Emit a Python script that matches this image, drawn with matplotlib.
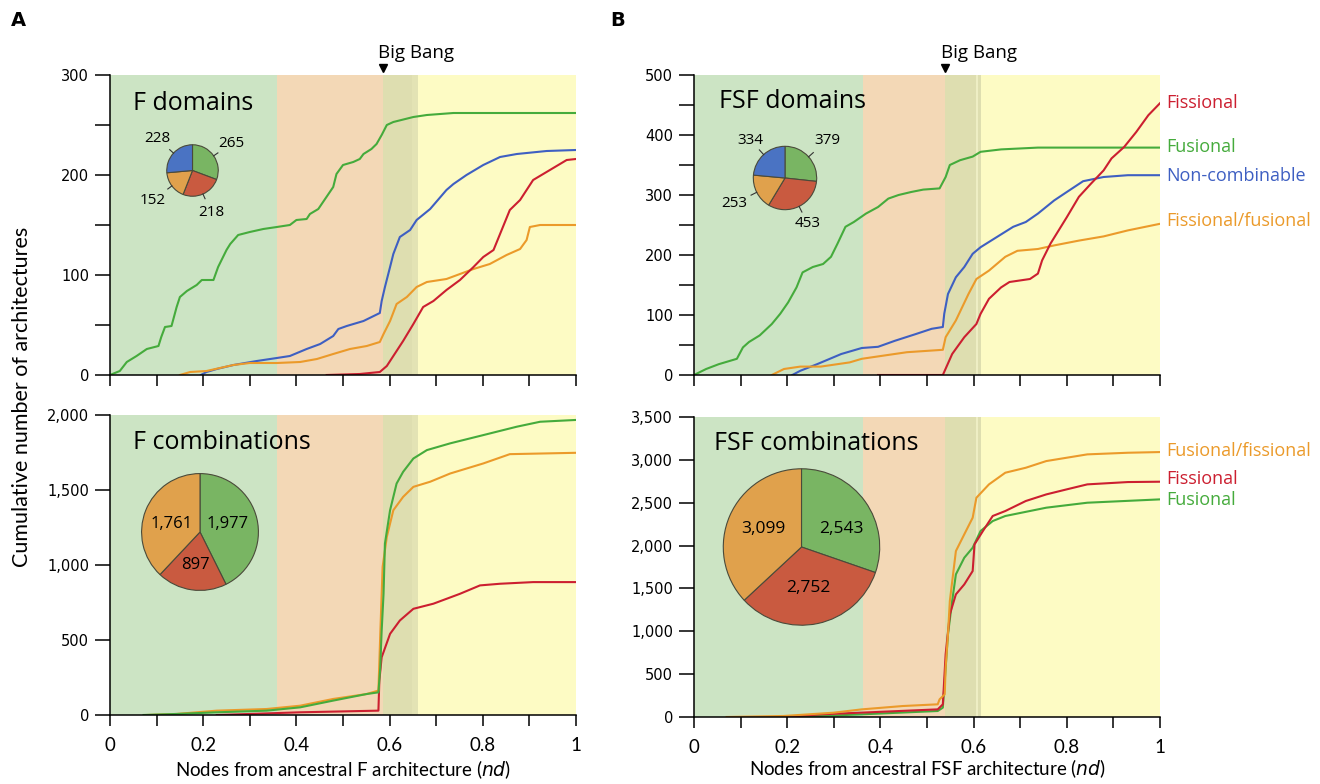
import matplotlib
matplotlib.use('Agg')
import matplotlib.pyplot as plt
import numpy as np
from matplotlib.ticker import MultipleLocator, FuncFormatter
import matplotlib.transforms as mtrans
import warnings
warnings.filterwarnings('ignore')

plt.rcParams['font.family'] = ['Open Sans', 'DejaVu Sans']

# ---------------- data ----------------
# Panel A top: F domains
fd_fus_x = [0, 0.021, 0.036, 0.057, 0.079, 0.104, 0.11, 0.118, 0.132, 0.143, 0.15, 0.165, 0.186, 0.197, 0.222, 0.232, 0.25, 0.258, 0.275, 0.3, 0.329, 0.358, 0.386, 0.4, 0.422, 0.429, 0.447, 0.479, 0.486, 0.5, 0.522, 0.536, 0.544, 0.561, 0.572, 0.583, 0.594, 0.608, 0.651, 0.68, 0.737, 1.0]
fd_fus_y = [0, 4, 13, 19, 26, 29, 38, 48, 49, 68, 78, 84, 90, 95, 95, 108, 125, 131, 140, 143, 146, 148, 150, 155, 156, 161, 166, 188, 201, 210, 213, 216, 221, 226, 231, 240, 250, 253, 258, 260, 262, 262]
fd_non_x = [0.195, 0.207, 0.229, 0.265, 0.315, 0.358, 0.386, 0.422, 0.451, 0.479, 0.49, 0.508, 0.544, 0.579, 0.583, 0.59, 0.601, 0.608, 0.622, 0.644, 0.658, 0.687, 0.722, 0.737, 0.765, 0.801, 0.837, 0.873, 0.937, 1.0]
fd_non_y = [0, 3, 6, 10, 14, 17, 19, 26, 31, 39, 46, 49, 54, 62, 74, 88, 108, 121, 138, 145, 155, 166, 185, 191, 200, 210, 218, 221, 224, 225]
fd_ff_x = [0.15, 0.172, 0.207, 0.265, 0.3, 0.358, 0.408, 0.444, 0.479, 0.515, 0.551, 0.579, 0.587, 0.601, 0.615, 0.637, 0.658, 0.68, 0.722, 0.751, 0.78, 0.815, 0.851, 0.88, 0.894, 0.901, 0.923, 1.0]
fd_ff_y = [0, 3, 4, 10, 12, 12, 13, 16, 21, 26, 29, 33, 41, 54, 71, 78, 88, 93, 96, 101, 106, 111, 120, 126, 135, 148, 150, 150]
fd_fis_x = [0.465, 0.536, 0.579, 0.594, 0.608, 0.629, 0.651, 0.672, 0.694, 0.722, 0.751, 0.78, 0.801, 0.823, 0.837, 0.858, 0.88, 0.908, 0.944, 0.98, 1.0]
fd_fis_y = [0, 1, 3, 9, 19, 34, 51, 68, 74, 85, 95, 108, 118, 125, 141, 165, 175, 195, 205, 215, 216]
fd_pie = [265, 218, 152, 228]  # fusional, fissional, fissional/fusional, non-combinable

# Panel B top: FSF domains
fsd_fus_x = [0, 0.026, 0.053, 0.092, 0.105, 0.118, 0.141, 0.167, 0.185, 0.202, 0.22, 0.233, 0.255, 0.277, 0.294, 0.308, 0.325, 0.343, 0.369, 0.395, 0.417, 0.439, 0.466, 0.492, 0.527, 0.54, 0.549, 0.571, 0.598, 0.615, 0.659, 0.738, 1.0]
fsd_fus_y = [0, 10, 18, 27, 46, 55, 66, 85, 102, 121, 146, 171, 180, 185, 197, 219, 247, 255, 269, 280, 294, 300, 305, 309, 311, 330, 350, 358, 364, 372, 376, 379, 379]
fsd_non_x = [0.211, 0.228, 0.264, 0.316, 0.36, 0.395, 0.431, 0.475, 0.51, 0.534, 0.537, 0.545, 0.562, 0.58, 0.598, 0.615, 0.65, 0.685, 0.712, 0.738, 0.773, 0.8, 0.835, 0.879, 0.931, 1.0]
fsd_non_y = [0, 7, 18, 35, 45, 47, 57, 68, 77, 80, 102, 135, 163, 180, 202, 213, 230, 247, 255, 269, 291, 305, 323, 330, 333, 333]
fsd_ff_x = [0.167, 0.193, 0.228, 0.272, 0.334, 0.36, 0.404, 0.457, 0.534, 0.54, 0.562, 0.589, 0.606, 0.633, 0.668, 0.694, 0.738, 0.773, 0.826, 0.879, 0.931, 1.0]
fsd_ff_y = [0, 10, 14, 14, 21, 27, 32, 38, 42, 63, 91, 135, 160, 174, 197, 207, 210, 216, 224, 231, 241, 252]
fsd_fis_x = [0.395, 0.534, 0.554, 0.58, 0.606, 0.615, 0.633, 0.659, 0.677, 0.721, 0.738, 0.747, 0.765, 0.8, 0.826, 0.852, 0.879, 0.896, 0.923, 0.949, 0.975, 1.0]
fsd_fis_y = [0, 0, 35, 63, 85, 102, 127, 146, 155, 160, 169, 191, 219, 263, 297, 319, 341, 361, 380, 405, 433, 453]
fsd_pie = [379, 453, 253, 334]

# Panel A bottom: F combinations
fc_fus_x = [0.072, 0.143, 0.229, 0.336, 0.408, 0.479, 0.551, 0.576, 0.58, 0.583, 0.587, 0.59, 0.601, 0.615, 0.629, 0.651, 0.68, 0.73, 0.801, 0.873, 0.923, 1.0]
fc_fus_y = [0, 7, 18, 29, 51, 96, 140, 151, 318, 563, 808, 1143, 1365, 1543, 1621, 1710, 1766, 1811, 1866, 1922, 1955, 1967]
fc_ff_x = [0.079, 0.143, 0.229, 0.336, 0.408, 0.479, 0.551, 0.576, 0.58, 0.585, 0.594, 0.608, 0.629, 0.651, 0.687, 0.73, 0.801, 0.858, 1.0]
fc_ff_y = [0, 7, 29, 40, 62, 107, 140, 163, 541, 987, 1187, 1365, 1454, 1521, 1555, 1610, 1677, 1739, 1748]
fc_fis_x = [0.229, 0.3, 0.408, 0.576, 0.578, 0.583, 0.601, 0.622, 0.651, 0.694, 0.751, 0.794, 0.837, 0.908, 1.0]
fc_fis_y = [0, 7, 18, 29, 229, 385, 541, 630, 708, 742, 808, 864, 875, 886, 886]
fc_pie = [1977, 897, 1761]

# Panel B bottom: FSF combinations
fsc_ff_x = [0.07, 0.193, 0.299, 0.36, 0.448, 0.523, 0.527, 0.538, 0.54, 0.545, 0.549, 0.562, 0.58, 0.598, 0.606, 0.633, 0.668, 0.712, 0.756, 0.844, 0.931, 1.0]
fsc_ff_y = [0, 12, 50, 89, 128, 148, 206, 264, 575, 964, 1353, 1936, 2131, 2325, 2558, 2714, 2850, 2908, 2986, 3064, 3083, 3091]
fsc_fis_x = [0.193, 0.272, 0.36, 0.523, 0.534, 0.54, 0.549, 0.562, 0.58, 0.598, 0.602, 0.62, 0.641, 0.668, 0.712, 0.756, 0.8, 0.844, 0.931, 1.0]
fsc_fis_y = [0, 31, 51, 89, 148, 731, 1198, 1431, 1547, 1703, 2014, 2170, 2345, 2403, 2520, 2597, 2656, 2714, 2741, 2745]
fsc_fus_x = [0.202, 0.272, 0.36, 0.523, 0.534, 0.54, 0.545, 0.554, 0.562, 0.58, 0.598, 0.615, 0.641, 0.668, 0.756, 0.844, 1.0]
fsc_fus_y = [0, 12, 31, 70, 109, 575, 964, 1353, 1664, 1858, 1975, 2170, 2286, 2345, 2442, 2500, 2539]
fsc_pie = [2543, 2752, 3099]

# era bands (x extents)
bands_A = [(0, 0.358), (0.358, 0.585), (0.585, 0.647), (0.647, 0.66), (0.66, 1.0)]
bands_B = [(0, 0.363), (0.363, 0.538), (0.538, 0.605), (0.605, 0.609), (0.609, 0.615), (0.615, 1.0)]
bigbang_A = 0.586
bigbang_B = 0.539

# ---------------- styles ----------------
C_GREEN = '#45ab3c'
C_BLUE = '#3e5fc2'
C_RED = '#cc1f30'
C_ORANGE = '#eb9a2a'
P_GREEN = '#79b563'
P_RED = '#c95a40'
P_ORANGE = '#e0a14c'
P_BLUE = '#4a73c3'
band_cols_A = ['#cce4c4', '#f3d8b6', '#dedeb0', '#e3e3b4', '#fdfbc4']
band_cols_B = ['#cce4c4', '#f3d8b6', '#dedeb0', '#eeeec4', '#dedeb0', '#fdfbc4']

W, H = 1320, 784
fig = plt.figure(figsize=(13.2, 7.84), dpi=100)

def fr(x0, y0, x1, y1):
    return [x0 / W, 1 - y1 / H, (x1 - x0) / W, (y1 - y0) / H]

NARROW = ['Lato', 'Open Sans', 'DejaVu Sans']

def style_axes(ax, ymax, ymajor, yminor, show_x, comma=False):
    ax.set_xlim(0, 1)
    ax.set_ylim(0, ymax)
    for s in ['top', 'right']:
        ax.spines[s].set_visible(False)
    for s in ['left', 'bottom']:
        ax.spines[s].set_linewidth(1.1)
        ax.spines[s].set_zorder(5)
    ax.xaxis.set_major_locator(MultipleLocator(0.2))
    ax.xaxis.set_minor_locator(MultipleLocator(0.1))
    ax.yaxis.set_major_locator(MultipleLocator(ymajor))
    ax.yaxis.set_minor_locator(MultipleLocator(yminor))
    ax.tick_params(which='both', direction='out', width=1.1, color='black')
    ax.tick_params(axis='x', which='both', length=8)
    ax.tick_params(axis='y', which='both', length=11, pad=4)
    if comma:
        ax.yaxis.set_major_formatter(FuncFormatter(lambda v, p: f'{int(v):,}'))
    else:
        ax.yaxis.set_major_formatter(FuncFormatter(lambda v, p: f'{int(v)}'))
    ax.xaxis.set_major_formatter(FuncFormatter(lambda v, p: '0' if abs(v) < 1e-9 else ('1' if abs(v - 1) < 1e-9 else f'{v:.1f}')))
    for lab in ax.get_yticklabels():
        lab.set_fontfamily('DejaVu Sans')
        lab.set_fontsize(10.5)
    if show_x:
        for lab in ax.get_xticklabels():
            lab.set_fontfamily(NARROW)
            lab.set_fontsize(13.5)
        ax.tick_params(axis='x', pad=8)
    else:
        ax.tick_params(axis='x', labelbottom=False)

def draw_bands(ax, bands, cols):
    for (a, b), c in zip(bands, cols):
        ax.axvspan(a, b, color=c, lw=0, zorder=0)

def big_bang(ax, xb, tx):
    trans = mtrans.blended_transform_factory(ax.transData, ax.transAxes)
    ax.plot([xb], [1.022], marker='v', color='black', ms=6, transform=trans, clip_on=False)
    ax.text(tx, 1.073, 'Big Bang', transform=trans, ha='center', va='center', fontsize=13.5)

def pie_inset(rect, vals, cols, labels_out, fs, inside_pos=None):
    pa = fig.add_axes(rect)
    pa.pie(vals, colors=cols, startangle=90, counterclock=False,
           wedgeprops=dict(edgecolor='#4a4a3a', linewidth=0.8))
    pa.set_xlim(-1.01, 1.01)
    pa.set_ylim(-1.01, 1.01)
    pa.set_aspect('auto')
    pa.axis('off')
    tot = float(sum(vals))
    start = 90.0
    for i, v in enumerate(vals):
        ang = v / tot * 360.0
        mid = np.deg2rad(start - ang / 2)
        start -= ang
        lab = f'{v:,}'
        if labels_out:
            pa.plot([1.0 * np.cos(mid), 1.2 * np.cos(mid)], [1.0 * np.sin(mid), 1.2 * np.sin(mid)],
                    color='#333333', lw=0.8, clip_on=False)
            d = labels_out[i]
            pa.text(d * np.cos(mid), d * np.sin(mid), lab, ha='center', va='center', fontsize=fs, clip_on=False)
        else:
            x, y = inside_pos[i]
            pa.text(x, y, lab, ha='center', va='center', fontsize=fs)
    return pa

# ---------------- Panel A top ----------------
ax1 = fig.add_axes(fr(110, 75, 576, 375))
draw_bands(ax1, bands_A, band_cols_A)
ax1.plot(fd_fus_x, fd_fus_y, color=C_GREEN, lw=1.5, zorder=3)
ax1.plot(fd_non_x, fd_non_y, color=C_BLUE, lw=1.5, zorder=3)
ax1.plot(fd_ff_x, fd_ff_y, color=C_ORANGE, lw=1.5, zorder=3)
ax1.plot(fd_fis_x, fd_fis_y, color=C_RED, lw=1.5, zorder=3)
style_axes(ax1, 300, 100, 50, False)
ax1.text(0.05, 0.905, 'F domains', transform=ax1.transAxes, fontsize=18, va='center', ha='left')
big_bang(ax1, bigbang_A, 0.657)

# ---------------- Panel B top ----------------
ax2 = fig.add_axes(fr(694, 75, 1160, 375))
draw_bands(ax2, bands_B, band_cols_B)
ax2.plot(fsd_fus_x, fsd_fus_y, color=C_GREEN, lw=1.5, zorder=3)
ax2.plot(fsd_non_x, fsd_non_y, color=C_BLUE, lw=1.5, zorder=3)
ax2.plot(fsd_ff_x, fsd_ff_y, color=C_ORANGE, lw=1.5, zorder=3)
ax2.plot(fsd_fis_x, fsd_fis_y, color=C_RED, lw=1.5, zorder=3)
style_axes(ax2, 500, 100, 50, False)
ax2.text(0.054, 0.91, 'FSF domains', transform=ax2.transAxes, fontsize=18, va='center', ha='left')
big_bang(ax2, bigbang_B, 0.612)
tr2 = mtrans.blended_transform_factory(ax2.transAxes, ax2.transData)
for txt, yv, c in [('Fissional', 453, C_RED), ('Fusional', 380, C_GREEN),
                   ('Non-combinable', 332, C_BLUE), ('Fissional/fusional', 257, C_ORANGE)]:
    ax2.text(1.013, yv, txt, transform=tr2, color=c, fontsize=13, va='center', ha='left', clip_on=False)

# ---------------- Panel A bottom ----------------
ax3 = fig.add_axes(fr(110, 415, 576, 715))
draw_bands(ax3, bands_A, band_cols_A)
ax3.plot(fc_fis_x, fc_fis_y, color=C_RED, lw=1.5, zorder=3)
ax3.plot(fc_ff_x, fc_ff_y, color=C_ORANGE, lw=1.5, zorder=3)
ax3.plot(fc_fus_x, fc_fus_y, color=C_GREEN, lw=1.5, zorder=3)
style_axes(ax3, 2000, 500, 500, True, comma=True)
ax3.text(0.05, 0.907, 'F combinations', transform=ax3.transAxes, fontsize=18, va='center', ha='left')
ax3.set_xlabel('Nodes from ancestral F architecture ($\\it{nd}$)', fontsize=13.5, fontfamily=NARROW, labelpad=3)

# ---------------- Panel B bottom ----------------
ax4 = fig.add_axes(fr(694, 417, 1160, 717))
draw_bands(ax4, bands_B, band_cols_B)
ax4.plot(fsc_fus_x, fsc_fus_y, color=C_GREEN, lw=1.5, zorder=3)
ax4.plot(fsc_fis_x, fsc_fis_y, color=C_RED, lw=1.5, zorder=3)
ax4.plot(fsc_ff_x, fsc_ff_y, color=C_ORANGE, lw=1.5, zorder=3)
style_axes(ax4, 3500, 500, 500, True, comma=True)
ax4.text(0.042, 0.91, 'FSF combinations', transform=ax4.transAxes, fontsize=18, va='center', ha='left')
ax4.set_xlabel('Nodes from ancestral FSF architecture ($\\it{nd}$)', fontsize=13.5, fontfamily=NARROW, labelpad=1)
tr4 = mtrans.blended_transform_factory(ax4.transAxes, ax4.transData)
for txt, yv, c in [('Fusional/fissional', 3103, C_ORANGE), ('Fissional', 2777, C_RED), ('Fusional', 2532, C_GREEN)]:
    ax4.text(1.013, yv, txt, transform=tr4, color=c, fontsize=13, va='center', ha='left', clip_on=False)

# ---------------- pies ----------------
def circ(cx, cy, r):
    return fr(cx - r, cy - r, cx + r, cy + r)

pie_inset(circ(192.5, 170.5, 26), fd_pie, [P_GREEN, P_RED, P_ORANGE, P_BLUE], [1.85, 1.8, 1.95, 1.85], 11)
pie_inset(circ(785, 178, 32), fsd_pie, [P_GREEN, P_RED, P_ORANGE, P_BLUE], [1.78, 1.6, 1.78, 1.62], 11)
pie_inset(circ(200, 532, 59), fc_pie, [P_GREEN, P_RED, P_ORANGE], None, 12,
          inside_pos=[(0.47, 0.14), (-0.07, -0.57), (-0.49, 0.14)])
pie_inset(circ(801.5, 547, 79), fsc_pie, [P_GREEN, P_RED, P_ORANGE], None, 12.5,
          inside_pos=[(0.51, 0.23), (0.09, -0.53), (-0.49, 0.23)])

# ---------------- labels ----------------
fig.text(11 / W, 1 - 20 / H, 'A', fontsize=14, fontweight='bold', fontfamily='DejaVu Sans', va='center', ha='left')
fig.text(610 / W, 1 - 20 / H, 'B', fontsize=14, fontweight='bold', fontfamily='DejaVu Sans', va='center', ha='left')
fig.text(22 / W, 1 - 397 / H, 'Cumulative number of architectures', rotation=90, fontsize=15.5,
         fontfamily=NARROW, va='center', ha='center')

fig.savefig('out.png', dpi=100)
